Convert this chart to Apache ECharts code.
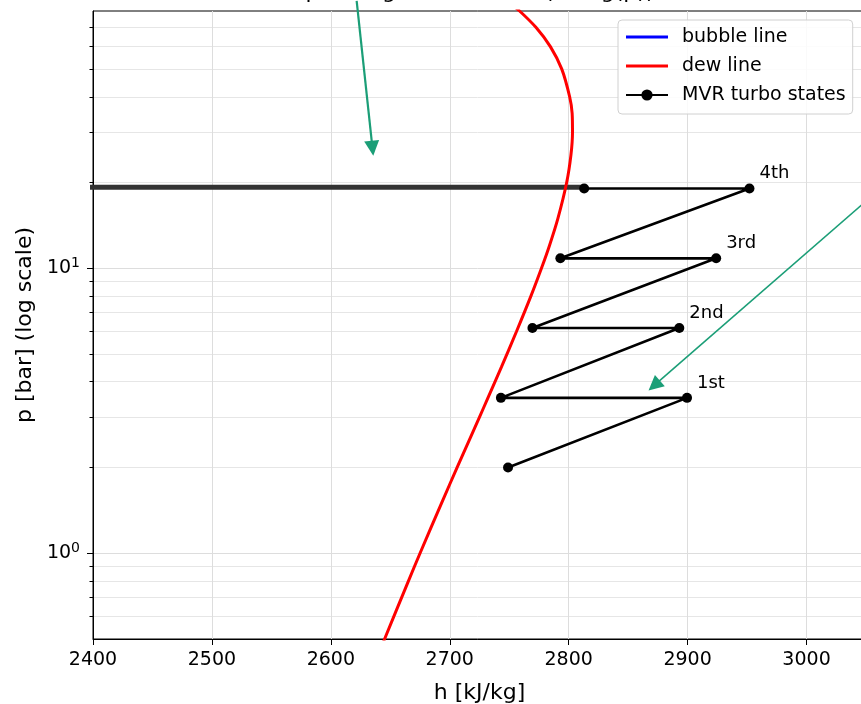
<!DOCTYPE html>
<html>
<head>
<meta charset="utf-8">
<script src="https://cdn.jsdelivr.net/npm/echarts@6/dist/echarts.min.js"></script>
<style>html,body{margin:0;padding:0;background:#fff}#main{width:861px;height:704px}</style>
</head>
<body>
<div id="main"></div>
<script>
// saturation lines (h in kJ/kg, p in bar)
var dewP = [0.48, 0.5, 0.8, 1.0, 1.5, 2.0, 2.5, 3.0, 3.5, 4.5, 6.0, 8.0, 10, 12, 15, 20, 25, 30, 35, 40, 50, 60, 70, 80, 86];
var dewH = [2643.5, 2645.2, 2665.3, 2675.0, 2693.1, 2706.2, 2716.5, 2724.9, 2732.0, 2743.4, 2756.1, 2768.3, 2777.1, 2783.8, 2791.0, 2798.3, 2801.9, 2803.2, 2802.9, 2800.8, 2794.2, 2784.6, 2772.6, 2758.7, 2749.5];
var bubbleP = [0.5, 1, 2, 4, 10, 20, 40, 60, 80];
var bubbleH = [340.5, 417.5, 504.7, 604.7, 762.6, 908.6, 1087.4, 1213.7, 1316.6];

// MVR compressor path: compress, then desuperheat, per stage
var stateH = [2749, 2899.5, 2743, 2893, 2769.5, 2924, 2793, 2952, 2813];
var stateP = [2.0, 3.51, 3.51, 6.17, 6.17, 10.84, 10.84, 19.05, 19.05];
var stageLabels = ['', '1st', '', '2nd', '', '3rd', '', '4th', ''];

// discharge header line
var headerH = [2395, 2812];
var headerP = [19.25, 19.25];

// annotation arrows [from, head]
var arrowA = [[2621.7, 86.9], [2635.0, 26.4]];
var arrowB = [[3060, 18.7], [2871.9, 3.88]];

var majorP = [1, 10];
var minorP = [0.6, 0.7, 0.8, 0.9, 2, 3, 4, 5, 6, 7, 8, 9, 20, 30, 40, 50, 60, 70];

var font = 'DejaVu Sans';
var lineIcon = 'path://M0,0H42V3H0Z';

function zip(h, p) {
	return h.map(function(v, i) { return [v, p[i]]; });
}

var stateData = stateH.map(function(h, i) {
	var item = { value: [h, stateP[i]] };
	if (stageLabels[i]) {
		item.label = { show: true, formatter: stageLabels[i] };
	}
	return item;
});

var myChart = echarts.init(document.getElementById('main'));

myChart.setOption({
	animation: false,
	textStyle: { fontFamily: font },
	graphic: [{
		type: 'text',
		x: 480,
		y: -8,
		style: {
			text: 'p-h diagram of water (h, log(p))',
			font: '22px "DejaVu Sans"',
			fill: '#000',
			align: 'center',
			verticalAlign: 'middle'
		}
	}],
	grid: {
		left: 93,
		top: 11,
		right: -5,
		bottom: 65,
		outerBoundsMode: 'none',
		containLabel: false,
		show: true,
		borderColor: '#000',
		borderWidth: 1
	},
	legend: {
		data: [
			{ name: 'bubble line', icon: lineIcon },
			{ name: 'dew line', icon: lineIcon },
			{ name: 'MVR turbo states' }
		],
		orient: 'vertical',
		left: 618,
		top: 20,
		itemWidth: 42,
		itemHeight: 14,
		itemGap: 9,
		padding: [7, 7, 9, 7],
		backgroundColor: 'rgba(255,255,255,0.85)',
		borderColor: '#d0d0d0',
		borderWidth: 1,
		borderRadius: 4,
		textStyle: { fontFamily: font, fontSize: 19, color: '#000', lineHeight: 20, padding: [0, 0, 0, 9] }
	},
	xAxis: {
		type: 'value',
		min: 2400,
		max: 3050,
		interval: 100,
		name: 'h [kJ/kg]',
		nameLocation: 'middle',
		nameGap: 43,
		nameTextStyle: { fontFamily: font, fontSize: 22, color: '#000' },
		axisLine: { lineStyle: { color: '#000', width: 1 } },
		axisTick: { length: 6, lineStyle: { color: '#000' } },
		axisLabel: {
			margin: 12,
			fontFamily: font,
			fontSize: 19,
			color: '#000',
			formatter: function(v) { return v % 100 === 0 ? String(v) : ''; }
		},
		splitLine: { show: true, lineStyle: { color: '#dddddd', width: 1 } }
	},
	yAxis: [{
		type: 'log',
		logBase: 10,
		min: 0.5,
		max: 80,
		position: 'left',
		name: 'p [bar] (log scale)',
		nameLocation: 'middle',
		nameGap: 51,
		nameRotate: 90,
		nameTextStyle: { fontFamily: font, fontSize: 22, color: '#000' },
		axisLine: { show: true, lineStyle: { color: '#000', width: 1 } },
		axisTick: { show: true, length: 6, customValues: majorP, lineStyle: { color: '#000' } },
		axisLabel: {
			margin: 13,
			customValues: majorP,
			formatter: function(v) {
				return '{b|10}{s|' + Math.round(Math.log10(v)) + '}';
			},
			rich: {
				b: { fontFamily: font, fontSize: 19, color: '#000', lineHeight: 24 },
				s: { fontFamily: font, fontSize: 14, color: '#000', verticalAlign: 'top', lineHeight: 15 }
			}
		},
		splitLine: { show: true, lineStyle: { color: '#dddddd', width: 1 } }
	}, {
		type: 'log',
		logBase: 10,
		min: 0.5,
		max: 80,
		position: 'left',
		axisLine: { show: false },
		axisTick: { show: true, length: 3.5, customValues: minorP, lineStyle: { color: '#000' } },
		axisLabel: { show: false },
		splitLine: { show: true, lineStyle: { color: '#e6e6e6', width: 1 } }
	}],
	series: [{
		type: 'line',
		data: zip(headerH, headerP),
		symbol: 'none',
		clip: false,
		lineStyle: { color: '#333333', width: 5 },
		z: 1
	}, {
		name: 'bubble line',
		type: 'line',
		data: zip(bubbleH, bubbleP),
		symbol: 'none',
		color: '#0000ff',
		lineStyle: { color: '#0000ff', width: 3 },
		z: 2
	}, {
		name: 'dew line',
		type: 'line',
		data: zip(dewH, dewP),
		symbol: 'none',
		smooth: 0.3,
		color: '#ff0000',
		lineStyle: { color: '#ff0000', width: 3 },
		z: 3
	}, {
		name: 'MVR turbo states',
		type: 'line',
		data: stateData,
		symbol: 'circle',
		symbolSize: 10,
		color: '#000',
		itemStyle: { color: '#000' },
		lineStyle: { color: '#000', width: 2.6 },
		label: {
			show: false,
			position: 'right',
			distance: 5,
			offset: [0, -15],
			fontFamily: font,
			fontSize: 18,
			color: '#000'
		},
		z: 4
	}, {
		type: 'lines',
		coordinateSystem: 'cartesian2d',
		clip: false,
		symbol: ['none', 'triangle'],
		symbolSize: 15,
		lineStyle: { color: '#1b9e77', width: 2.2, opacity: 1 },
		data: [{ coords: arrowA }],
		z: 5
	}, {
		type: 'lines',
		coordinateSystem: 'cartesian2d',
		clip: false,
		symbol: ['none', 'triangle'],
		symbolSize: 15,
		lineStyle: { color: '#1b9e77', width: 1.6, opacity: 1 },
		data: [{ coords: arrowB }],
		z: 5
	}]
});
</script>
</body>
</html>
